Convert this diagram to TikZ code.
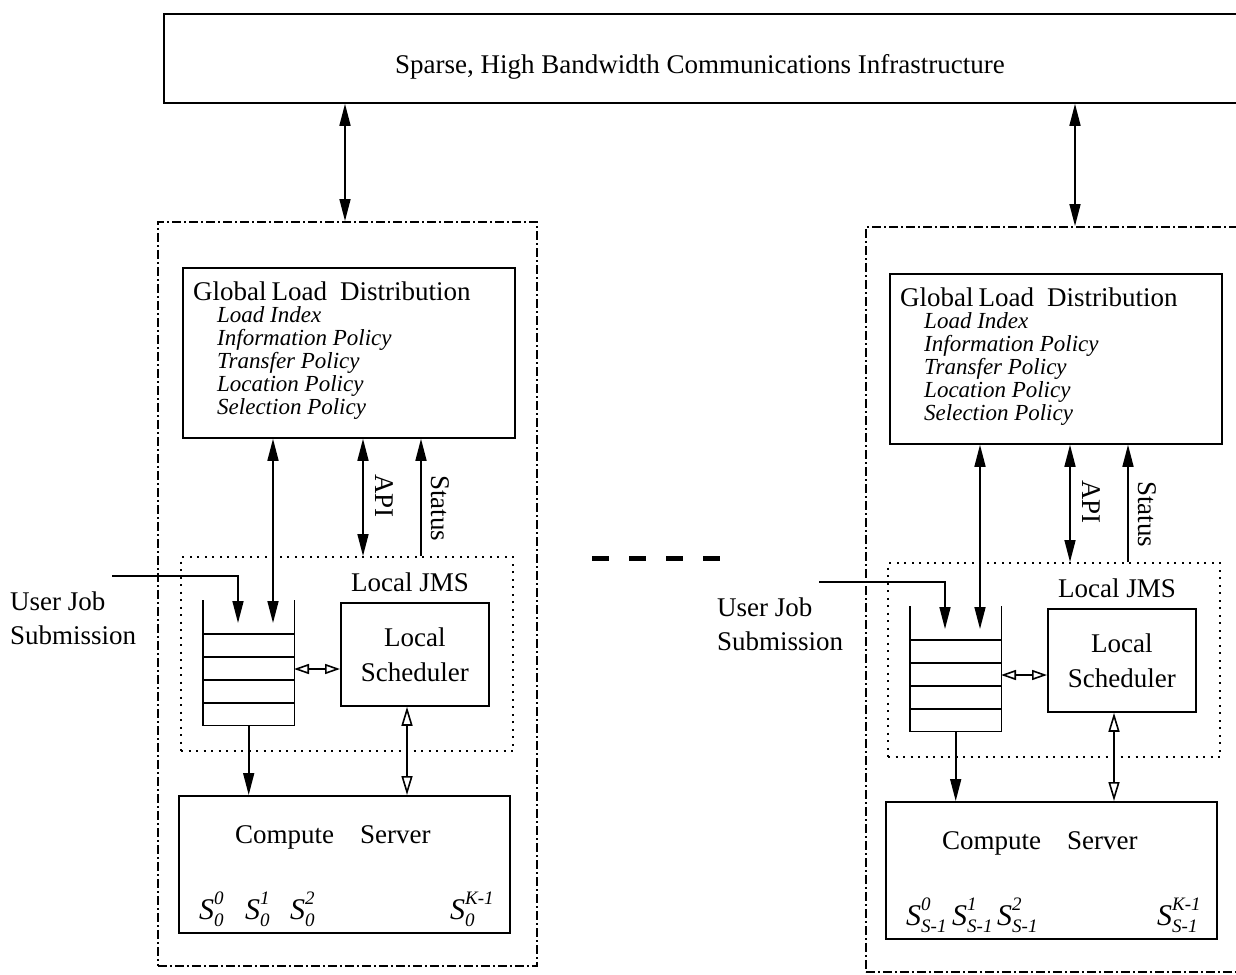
\documentclass[tikz,border=0pt]{standalone}
\usepackage{fontspec}
\setmainfont{Liberation Serif}
\usetikzlibrary{arrows.meta,calc}

\newcommand\txtbig{\fontsize{27}{34}\selectfont}
\newcommand\txtpol{\fontsize{23}{23}\selectfont\itshape}
\newcommand\txtsml{\fontsize{19}{19}\selectfont\itshape}
% server symbol S with super- and subscript
\newcommand\Snode[2]{{\fontsize{30}{30}\selectfont\itshape S}\rlap{\raisebox{15pt}{\txtsml #1}}\raisebox{-7pt}{\txtsml #2}}

\tikzset{
  plainbox/.style={draw, line width=1.8pt, inner sep=0pt},
  ln/.style={line width=1.6pt},
  dblarrow/.style={ln, {Triangle[length=22pt,width=11pt]}-{Triangle[length=22pt,width=11pt]}},
  toend/.style={ln, -{Triangle[length=22pt,width=11pt]}},
  openboth/.style={ln, {Triangle[open,length=19pt,width=11pt]}-{Triangle[open,length=19pt,width=11pt]}},
  openh/.style={ln, {Triangle[open,length=15pt,width=10pt]}-{Triangle[open,length=15pt,width=10pt]}},
  dashdot/.style={draw, line width=1.6pt, dash pattern=on 9pt off 3pt on 2pt off 3pt, inner sep=0pt},
  dotbox/.style={draw, line width=2.2pt, dash pattern=on 2pt off 5.5pt, inner sep=0pt},
  lbl/.style={font=\txtbig, inner sep=0pt},
  pol/.style={font=\txtpol, inner sep=0pt},
}

% one site: #1 name suffix, #2 shift, #3 site index in subscripts
\newcommand\jmspanel[3]{%
\begin{scope}[shift={#2}]
  % global load distribution
  \node[plainbox, anchor=north west, minimum width=332pt, minimum height=170pt] (gld#1) at (182,267) {};
  \node[lbl, anchor=base west] (gldt#1) at (193,300) {Global\hspace{5pt}Load\hspace{13pt}Distribution};
  \node[pol, anchor=base west] (pa#1) at (217,322) {Load Index};
  \node[pol, anchor=base west] (pb#1) at (217,345) {Information Policy};
  \node[pol, anchor=base west] (pc#1) at (217,368) {Transfer Policy};
  \node[pol, anchor=base west] (pd#1) at (217,391) {Location Policy};
  \node[pol, anchor=base west] (pe#1) at (217,414) {Selection Policy};
  % local JMS
  \node[dotbox, anchor=north west, minimum width=332pt, minimum height=194pt] (jms#1) at (180,556) {};
  \node[lbl, anchor=base] (jmst#1) at (410,591) {Local JMS};
  % job queue
  \node[inner sep=0pt, anchor=north west, minimum width=91pt, minimum height=125pt] (q#1) at (203,600) {};
  \draw[ln] (q#1.north west) -- (q#1.south west) -- (q#1.south east) -- (q#1.north east);
  \draw[ln] (203,634) -- (294,634) (203,657) -- (294,657) (203,680) -- (294,680) (203,703) -- (294,703);
  % local scheduler
  \node[plainbox, anchor=north west, minimum width=148pt, minimum height=103pt, align=center,
        font=\fontsize{27}{35}\selectfont] (sch#1) at (340,602) {Local\\Scheduler};
  % compute server
  \node[plainbox, anchor=north west, minimum width=331pt, minimum height=137pt] (cs#1) at (178,795) {};
  \node[lbl, anchor=base west] (cst#1) at (235,843) {Compute\hspace{26pt}Server};
  \node[lbl, anchor=base west] (sa#1) at (199,919) {\Snode{0}{#3}};
  \node[lbl, anchor=base west] (sb#1) at (245,919) {\Snode{1}{#3}};
  \node[lbl, anchor=base west] (sc#1) at (290,919) {\Snode{2}{#3}};
  \node[lbl, anchor=base west] (sk#1) at (450,919) {\Snode{K-1}{#3}};
  % job submission
  \node[lbl, anchor=base west] (uja#1) at (10,610) {User Job};
  \node[lbl, anchor=base west] (ujb#1) at (10,644) {Submission};
  % connector ends
  \coordinate (uj#1) at (112,576);
  \coordinate (qa#1) at (238,623);
  \coordinate (qb#1) at (273,623);
  \coordinate (api#1) at (363,556);
  \coordinate (st#1) at (421,556);
  \coordinate (lk#1) at (294,669);
  \coordinate (sx#1) at (407,705);
  % connectors
  \draw[toend] (uj#1) -| (qa#1);
  \draw[dblarrow] (gld#1.south -| qb#1) -- (qb#1);
  \draw[dblarrow] (gld#1.south -| api#1) -- (api#1);
  \draw[toend] (st#1) -- (gld#1.south -| st#1);
  \draw[openh] (lk#1) -- (sch#1.west |- lk#1);
  \draw[toend] (q#1.south) -- (cs#1.north -| q#1.south);
  \draw[openboth] (sch#1.south -| sx#1) -- (cs#1.north -| sx#1);
  \node[lbl, rotate=-90] (apit#1) at (384,496) {API};
  \node[lbl, rotate=-90] (stt#1) at (440,508) {Status};
\end{scope}}

\begin{document}
\begin{tikzpicture}[x=1pt, y=-1pt]
  \useasboundingbox (0,0) rectangle (1236,974);

  % communications backbone
  \node[plainbox, anchor=north west, minimum width=1100pt, minimum height=89pt] (bar) at (163,13) {};
  \node[lbl, anchor=base] (bart) at (700,74) {Sparse, High Bandwidth Communications Infrastructure};

  % site outlines
  \node[dashdot, anchor=north west, minimum width=379pt, minimum height=744pt] (outL) at (157,221) {};
  \node[dashdot, anchor=north west, minimum width=400pt, minimum height=745pt] (outR) at (865,226) {};

  \coordinate (tL) at (345,0);
  \coordinate (tR) at (1075,0);
  \draw[dblarrow] (bar.south -| tL) -- (outL.north -| tL);
  \draw[dblarrow] (bar.south -| tR) -- (outR.north -| tR);

  \jmspanel{L}{(0,0)}{0}
  \jmspanel{R}{(707,6)}{S-1}

  % further sites
  \coordinate (dotsA) at (592,558);
  \coordinate (dotsB) at (720,558);
  \draw[line width=5pt, dash pattern=on 17pt off 20pt] (dotsA) -- (dotsB);
\end{tikzpicture}
\end{document}
